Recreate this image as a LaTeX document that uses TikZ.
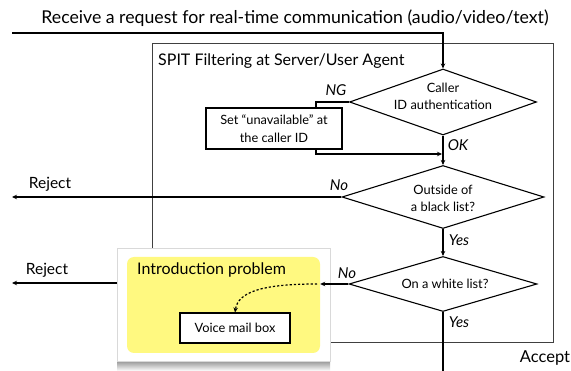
\documentclass[tikz,border=0pt]{standalone}
\usepackage{fontspec}
\setmainfont{Lato}
\usetikzlibrary{shapes.geometric,arrows.meta,calc}
\tikzset{
  flow/.style={line width=1.1pt, draw=black},
  arr/.style={flow, -{Stealth[length=5pt,width=4.5pt]}},
  decision/.style={diamond, draw=black, line width=1.1pt, fill=white, inner sep=0pt},
  dtext/.style={inner sep=0pt, align=center, font=\fontsize{12.8}{17}\selectfont},
  plainbox/.style={rectangle, draw=black, line width=1.1pt, fill=white, inner sep=0pt,
    align=center, font=\fontsize{12.8}{18}\selectfont},
  lbl/.style={font=\fontsize{15}{17}\selectfont\itshape, inner sep=0pt},
  rej/.style={font=\fontsize{15.5}{17}\selectfont, inner sep=0pt},
}
\begin{document}
\begin{tikzpicture}[x=1pt,y=-1pt]
\useasboundingbox (0,0) rectangle (571,371);
\fill[white] (0,0) rectangle (571,371);

% heading and outer frame
\node[inner sep=0pt, font=\fontsize{17.7}{20}\selectfont] (title) at (295,18)
  {Receive a request for real-time communication (audio/video/text)};
\draw[draw=black!75, line width=0.8pt] (152,43) rectangle (553,342);
\node[inner sep=0pt, anchor=west, font=\fontsize{16}{18}\selectfont] (frame) at (158,61)
  {SPIT Filtering at Server/User Agent};

% decisions
\node[decision, minimum width=187, minimum height=66] (d1) at (443,102) {};
\node[dtext] (d1t) at (443,96) {Caller\\ID authentication};
\node[decision, minimum width=202, minimum height=63] (d2) at (443,197) {};
\node[dtext] (d2t) at (443,198) {Outside of\\a black list?};
\node[decision, minimum width=188, minimum height=55] (d3) at (443,284) {};
\node[dtext] (d3t) at (445,284) {On a white list?};

% caller id fallback
\node[plainbox, minimum width=136, minimum height=41] (unav) at (274,128.5)
  {Set ``unavailable'' at\\the caller ID};

% introduction problem panel
\shade[top color=black!45, bottom color=white] (117,360) rectangle (330,371);
\node[rectangle, fill=white, draw=black!15, line width=0.5pt, minimum width=213,
  minimum height=113, inner sep=0pt] (back) at (223.5,304.5) {};
\node[rectangle, rounded corners=7pt, fill={rgb,255:red,255;green,249;blue,128},
  minimum width=193, minimum height=96, inner sep=0pt] (panel) at (223.5,305) {};
\node[inner sep=0pt, anchor=west, font=\fontsize{16}{18}\selectfont] (intro) at (137,270)
  {Introduction problem};
\node[plainbox, minimum width=110, minimum height=30] (vm) at (235,328) {Voice mail box};

% connectors
\coordinate (start) at (12,33);
\draw[arr] (start) -| (d1.north);
\draw[flow] (d1.west) -| ($(unav.north)+(42,0)$);
\coordinate (join) at (442,154);
\draw[arr] ($(unav.south)+(42,0)$) |- (join);
\draw[arr] (d1.south) -- (d2.north);
\coordinate (rej1) at (12,197);
\draw[arr] (d2.west) -- (rej1);
\draw[arr] (d2.south) -- (d3.north);
\draw[arr] (d3.west) -- (panel.east |- d3.west);
\coordinate (dotstart) at (317,284);
\draw[line width=1.2pt, dash pattern=on 2.2pt off 2pt, -{Stealth[length=5pt,width=4.5pt]}]
  (dotstart) .. controls (262,284) and (238,292) .. (vm.north);
\coordinate (rej2) at (12,283);
\draw[arr] (back.west |- rej2) -- (rej2);
\coordinate (acc) at (443,371);
\draw[flow] (d3.south) -- (acc);

% branch labels
\node[lbl] (ng) at (336,90) {NG};
\node[lbl] (ok) at (458,145) {OK};
\node[lbl] (no1) at (339,185) {No};
\node[lbl] (yes1) at (459,240) {Yes};
\node[lbl] (no2) at (347,273) {No};
\node[lbl] (yes2) at (459,322) {Yes};
\node[rej] (r1) at (50,184) {Reject};
\node[rej] (r2) at (47,270) {Reject};
\node[inner sep=0pt, font=\fontsize{16.5}{18}\selectfont] (accept) at (545,358) {Accept};
\end{tikzpicture}
\end{document}
